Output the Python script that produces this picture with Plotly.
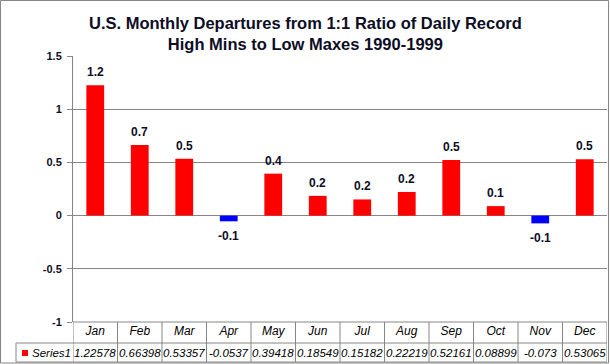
import plotly.graph_objects as go

months = ["Jan", "Feb", "Mar", "Apr", "May", "Jun", "Jul", "Aug", "Sep", "Oct", "Nov", "Dec"]
values = [1.22578, 0.66398, 0.53357, -0.0537, 0.39418, 0.18549, 0.15182, 0.22219, 0.52161, 0.08899, -0.073, 0.53065]
value_text = ["1.22578", "0.66398", "0.53357", "-0.0537", "0.39418", "0.18549", "0.15182", "0.22219", "0.52161", "0.08899", "-0.073", "0.53065"]
series_name = "Series1"
y_ticks = [-1, -0.5, 0, 0.5, 1, 1.5]
title_lines = ["U.S. Monthly Departures from 1:1 Ratio of Daily Record", "High Mins to Low Maxes 1990-1999"]

W, H = 610, 364
L, R, T, B = 73, 3, 56, 42
PW = W - L - R
PH = H - T - B
GRAY = "#868686"
TXT = "#0d0d26"
FONT = "Liberation Sans"

def px_x(px):
    return (px - L) / PW

def px_y(py):
    return (H - B - py) / PH

colors = ["#FF0000" if v >= 0 else "#0000FF" for v in values]

fig = go.Figure()
fig.add_trace(go.Bar(x=months, y=values, marker_color=colors, marker_line_width=0,
                     width=0.4, showlegend=False, hoverinfo="x+y"))

shapes = []
# outer frame
shapes.append(dict(type="rect", xref="paper", yref="paper",
                   x0=px_x(0.5), x1=px_x(608.5), y0=px_y(363), y1=px_y(0.5),
                   line=dict(color=GRAY, width=1), layer="below"))
# table horizontal lines
for py in [322, 343, 362]:
    shapes.append(dict(type="line", xref="paper", yref="paper",
                       x0=px_x(16 if py != 322 else 73), x1=1, y0=px_y(py), y1=px_y(py),
                       line=dict(color=GRAY, width=1)))
# table vertical lines at category boundaries
for i in range(len(months) + 1):
    shapes.append(dict(type="line", xref="x", yref="paper",
                       x0=i - 0.5, x1=i - 0.5, y0=px_y(322), y1=px_y(362),
                       line=dict(color=GRAY, width=1)))
# left cell of series row
shapes.append(dict(type="line", xref="paper", yref="paper",
                   x0=px_x(16), x1=px_x(16), y0=px_y(343), y1=px_y(362),
                   line=dict(color=GRAY, width=1)))
# legend key
shapes.append(dict(type="rect", xref="paper", yref="paper",
                   x0=px_x(22), x1=px_x(28), y0=px_y(356), y1=px_y(350),
                   fillcolor="#FF0000", line=dict(width=0)))

annotations = []
# bar value labels
for m, v in zip(months, values):
    annotations.append(dict(x=m, y=v, xref="x", yref="y", text=f"<b>{v:.1f}</b>",
                            showarrow=False, yanchor="bottom" if v >= 0 else "top",
                            yshift=4 if v >= 0 else -6,
                            font=dict(family=FONT, size=12, color=TXT)))
# table values row
for m, t in zip(months, value_text):
    annotations.append(dict(x=m, y=px_y(352.5), xref="x", yref="paper", text=f"<i>{t}</i>",
                            showarrow=False, yanchor="middle",
                            font=dict(family=FONT, size=11.5, color="#000000")))
# legend label
annotations.append(dict(x=px_x(30), y=px_y(352.5), xref="paper", yref="paper",
                        text=f"<i>{series_name}</i>", showarrow=False, xanchor="left",
                        yanchor="middle", font=dict(family=FONT, size=11.5, color="#000000")))
# title
annotations.append(dict(x=px_x(305), y=px_y(12), xref="paper", yref="paper",
                        text="<b>" + "<br>".join(title_lines) + "</b>", showarrow=False,
                        xanchor="center", yanchor="top",
                        font=dict(family=FONT, size=16.5, color=TXT)))

fig.update_layout(
    width=W, height=H,
    margin=dict(l=L, r=R, t=T, b=B, pad=0),
    paper_bgcolor="white", plot_bgcolor="white",
    shapes=shapes, annotations=annotations,
    xaxis=dict(range=[-0.5, len(months) - 0.5], showgrid=False, zeroline=False,
               showline=False, ticks="", type="category",
               tickfont=dict(family=FONT, size=12, color="#000000", style="italic")),
    yaxis=dict(range=[-1, 1.5], tickvals=y_ticks, ticktext=[f"{t:g}" for t in y_ticks],
               showgrid=True, gridcolor=GRAY, gridwidth=1,
               zeroline=True, zerolinecolor=GRAY, zerolinewidth=1,
               showline=True, linecolor=GRAY, linewidth=1,
               ticks="outside", ticklen=5, tickcolor=GRAY, ticklabelstandoff=3,
               tickfont=dict(family=FONT, size=11, color=TXT, weight="bold")),
    font=dict(family=FONT),
)

fig.write_html("out.html", config={"displayModeBar": False},
               post_script="document.body.style.margin='0';document.body.style.overflow='hidden';")
